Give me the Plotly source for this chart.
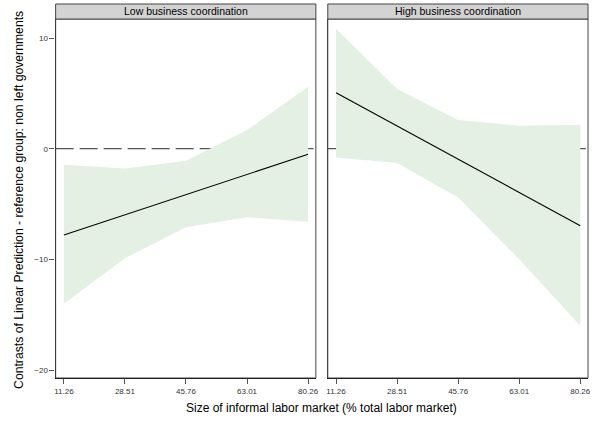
import plotly.graph_objects as go

x_vals = [11.26, 28.51, 45.76, 63.01, 80.26]
x_ticks = ["11.26", "28.51", "45.76", "63.01", "80.26"]

low_est = [-7.8, -5.97, -4.15, -2.32, -0.5]
low_upper = [-1.45, -1.8, -1.1, 1.7, 5.6]
low_lower = [-14.0, -9.9, -7.1, -6.2, -6.6]

high_est = [5.06, 2.06, -0.95, -3.95, -6.96]
high_upper = [10.84, 5.4, 2.6, 2.08, 2.17]
high_lower = [-0.8, -1.3, -4.4, -10.0, -16.0]

panel_titles = ["Low business coordination", "High business coordination"]

band_color = "#E5F0E5"
W, H = 594, 421

fig = go.Figure()

panels = [
    (low_est, low_upper, low_lower, "x", "y"),
    (high_est, high_upper, high_lower, "x2", "y2"),
]
for est, up, lo, xa, ya in panels:
    fig.add_trace(go.Scatter(x=x_vals, y=up, mode="lines", line=dict(width=0, color=band_color),
                             xaxis=xa, yaxis=ya, showlegend=False, hoverinfo="skip"))
    fig.add_trace(go.Scatter(x=x_vals, y=lo, mode="lines", line=dict(width=0, color=band_color),
                             fill="tonexty", fillcolor=band_color,
                             xaxis=xa, yaxis=ya, showlegend=False, hoverinfo="skip"))
    fig.add_trace(go.Scatter(x=x_vals, y=est, mode="lines", line=dict(width=1.1, color="black"),
                             xaxis=xa, yaxis=ya, showlegend=False))

yb, yt = 1 - 378 / H, 1 - 19 / H
st_top = 1 - 4 / H
doms = [(55 / W, 317 / W), (329 / W, 591 / W)]

xr = [8.93, 82.45]
yr = [-20.72, 11.72]

common_x = dict(range=xr, tickvals=x_vals, ticktext=x_ticks, ticks="outside", ticklen=5,
                tickcolor="#555", tickwidth=1, showgrid=False, zeroline=False,
                tickfont=dict(family="Liberation Sans, Arial", size=8, color="#333"),
                showline=True, linecolor="black", linewidth=1.3)
fig.update_layout(
    width=W, height=H, margin=dict(l=0, r=0, t=0, b=0),
    plot_bgcolor="white", paper_bgcolor="white",
    xaxis=dict(domain=list(doms[0]), anchor="y", **common_x),
    xaxis2=dict(domain=list(doms[1]), anchor="y2", **common_x),
    yaxis=dict(domain=[yb, yt], range=yr, tickvals=[-20, -10, 0, 10], ticks="outside", ticklen=5,
               tickcolor="#555", showgrid=False, zeroline=False,
               tickfont=dict(family="Liberation Sans, Arial", size=8, color="#333"),
               showline=True, linecolor="black", linewidth=1.3, anchor="x"),
    yaxis2=dict(domain=[yb, yt], range=yr, showticklabels=False, ticks="", showgrid=False,
                zeroline=False, showline=True, linecolor="#444", linewidth=1, anchor="x2"),
)

shapes = []
for i, (d0, d1) in enumerate(doms):
    xa = "x" if i == 0 else "x2"
    ya = "y" if i == 0 else "y2"
    shapes.append(dict(type="line", xref=f"{xa} domain", yref=ya, x0=0, x1=1, y0=0, y1=0,
                       line=dict(color="#555", width=1.2, dash="18px,6px"), layer="below"))
    shapes.append(dict(type="rect", xref="paper", yref="paper", x0=d0, x1=d1, y0=yb, y1=yt,
                       line=dict(color="#444", width=1), fillcolor="rgba(0,0,0,0)", layer="above"))
    shapes.append(dict(type="rect", xref="paper", yref="paper", x0=d0, x1=d1, y0=yt, y1=st_top,
                       line=dict(color="#444", width=1), fillcolor="#D3D3D3", layer="above"))

fig.update_layout(shapes=shapes)

annotations = []
for i, (d0, d1) in enumerate(doms):
    annotations.append(dict(text=panel_titles[i], xref="paper", yref="paper", x=(d0 + d1) / 2,
                            y=(yt + st_top) / 2, showarrow=False, xanchor="center", yanchor="middle",
                            font=dict(family="Liberation Sans, Arial", size=10.5, color="black")))
annotations.append(dict(text="Size of informal labor market (% total labor market)", xref="paper",
                        yref="paper", x=323 / W, y=1 - 408 / H, showarrow=False, xanchor="center",
                        yanchor="middle", font=dict(family="Liberation Sans, Arial", size=12, color="black")))
annotations.append(dict(text="Contrasts of Linear Prediction - reference group: non left governments",
                        xref="paper", yref="paper", x=18 / W, y=1 - 200 / H, showarrow=False,
                        textangle=-90, xanchor="center", yanchor="middle",
                        font=dict(family="Liberation Sans, Arial", size=12.2, color="black")))
fig.update_layout(annotations=annotations)

fig.write_html("out.html", config={"displayModeBar": False},
               post_script="document.body.style.margin='0';document.body.style.padding='0';")
